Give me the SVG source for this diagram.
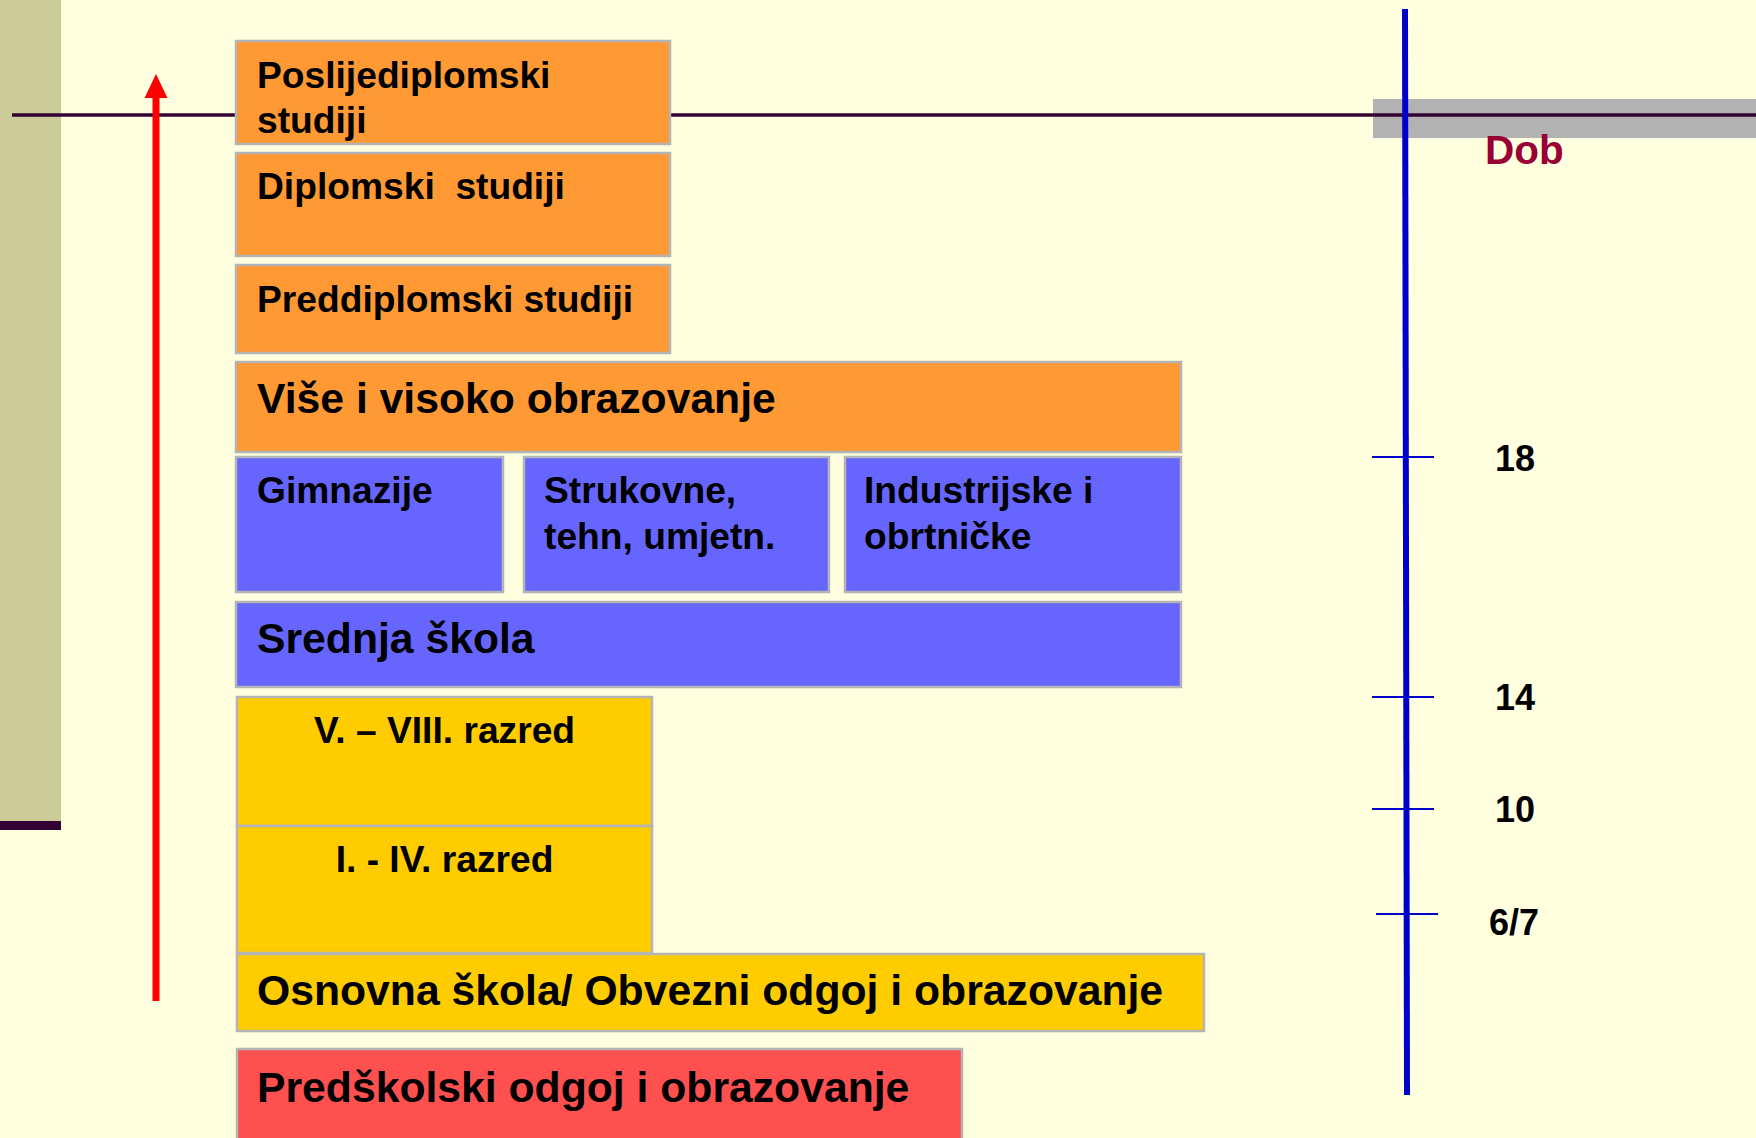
<svg xmlns="http://www.w3.org/2000/svg" width="1756" height="1138" viewBox="0 0 1756 1138">
<defs>
<style>
.box{stroke:#B4B4B4;stroke-width:2.5}
.or{fill:#FF9933}
.bl{fill:#6666FF}
.ye{fill:#FFCC00}
.rd{fill:#FF5050}
.t{font-family:"Liberation Sans",Arial,sans-serif;font-weight:bold;fill:#000}
.s{font-size:37.2px}
.l{font-size:42.7px}
.num{font-family:"Liberation Sans",Arial,sans-serif;font-weight:bold;font-size:36px;fill:#000;text-anchor:middle}
.tick{stroke:#0000CC;stroke-width:2}
</style>
</defs>
<rect x="0" y="0" width="1756" height="1138" fill="#FFFFE0"/>
<g id="decor">
<rect x="0" y="0" width="61" height="821" fill="#CCCC99"/>
<rect x="0" y="821" width="61" height="9" fill="#330033"/>
<rect x="1373" y="99" width="383" height="39" fill="#B2B2B2"/>
<line x1="12" y1="115" x2="1756" y2="115" stroke="#330033" stroke-width="3.5"/>
</g>
<g id="n-poslijediplomski">
<rect class="box or" x="236" y="41" width="434" height="103"/>
<text class="t s" x="257" y="88">Poslijediplomski<tspan x="257" y="133">studiji</tspan></text>
</g>
<g id="n-diplomski">
<rect class="box or" x="236" y="153" width="434" height="103"/>
<text class="t s" x="257" y="199" xml:space="preserve">Diplomski  studiji</text>
</g>
<g id="n-preddiplomski">
<rect class="box or" x="236" y="265" width="434" height="88"/>
<text class="t s" x="257" y="312">Preddiplomski studiji</text>
</g>
<g id="n-vise">
<rect class="box or" x="236" y="362" width="945" height="90"/>
<text class="t l" x="257" y="413">Više i visoko obrazovanje</text>
</g>
<g id="n-gimnazije">
<rect class="box bl" x="236" y="457" width="267" height="135"/>
<text class="t s" x="257" y="503">Gimnazije</text>
</g>
<g id="n-strukovne">
<rect class="box bl" x="524" y="457" width="305" height="135"/>
<text class="t s" x="544" y="503">Strukovne,<tspan x="544" y="549">tehn, umjetn.</tspan></text>
</g>
<g id="n-industrijske">
<rect class="box bl" x="845" y="457" width="336" height="135"/>
<text class="t s" x="864" y="503">Industrijske i<tspan x="864" y="549">obrtničke</tspan></text>
</g>
<g id="n-srednja">
<rect class="box bl" x="236" y="602" width="945" height="85"/>
<text class="t l" x="257" y="653">Srednja škola</text>
</g>
<g id="n-v-viii">
<rect class="box ye" x="237" y="697" width="415" height="129"/>
<text class="t s" x="444.5" y="743" text-anchor="middle">V. – VIII. razred</text>
</g>
<g id="n-i-iv">
<rect class="box ye" x="237" y="826" width="415" height="127"/>
<text class="t s" x="444.5" y="872" text-anchor="middle">I. - IV. razred</text>
</g>
<g id="n-osnovna">
<rect class="box ye" x="237" y="954" width="967" height="77"/>
<text class="t l" x="257" y="1005">Osnovna škola/ Obvezni odgoj i obrazovanje</text>
</g>
<g id="n-predskolski">
<rect class="box rd" x="237" y="1049" width="725" height="100"/>
<text class="t l" x="257" y="1102">Predškolski odgoj i obrazovanje</text>
</g>
<g id="connectors">
<line x1="156" y1="1001" x2="156" y2="96" stroke="#FF0000" stroke-width="7"/>
<polygon points="144.5,98 156,74 167.5,98" fill="#FF0000"/>
<line x1="1405" y1="9" x2="1407" y2="1095" stroke="#0000CC" stroke-width="6"/>
<line class="tick" x1="1372" y1="457" x2="1434" y2="457"/>
<line class="tick" x1="1372" y1="697" x2="1434" y2="697"/>
<line class="tick" x1="1372" y1="809" x2="1434" y2="809"/>
<line class="tick" x1="1376" y1="914" x2="1438" y2="914"/>
</g>
<g id="labels">
<text x="1485" y="164" font-family="Liberation Sans, Arial, sans-serif" font-weight="bold" font-size="40.5" fill="#990033">Dob</text>
<text class="num" x="1515" y="471">18</text>
<text class="num" x="1515" y="710">14</text>
<text class="num" x="1515" y="822">10</text>
<text class="num" x="1514" y="935">6/7</text>
</g>
</svg>
